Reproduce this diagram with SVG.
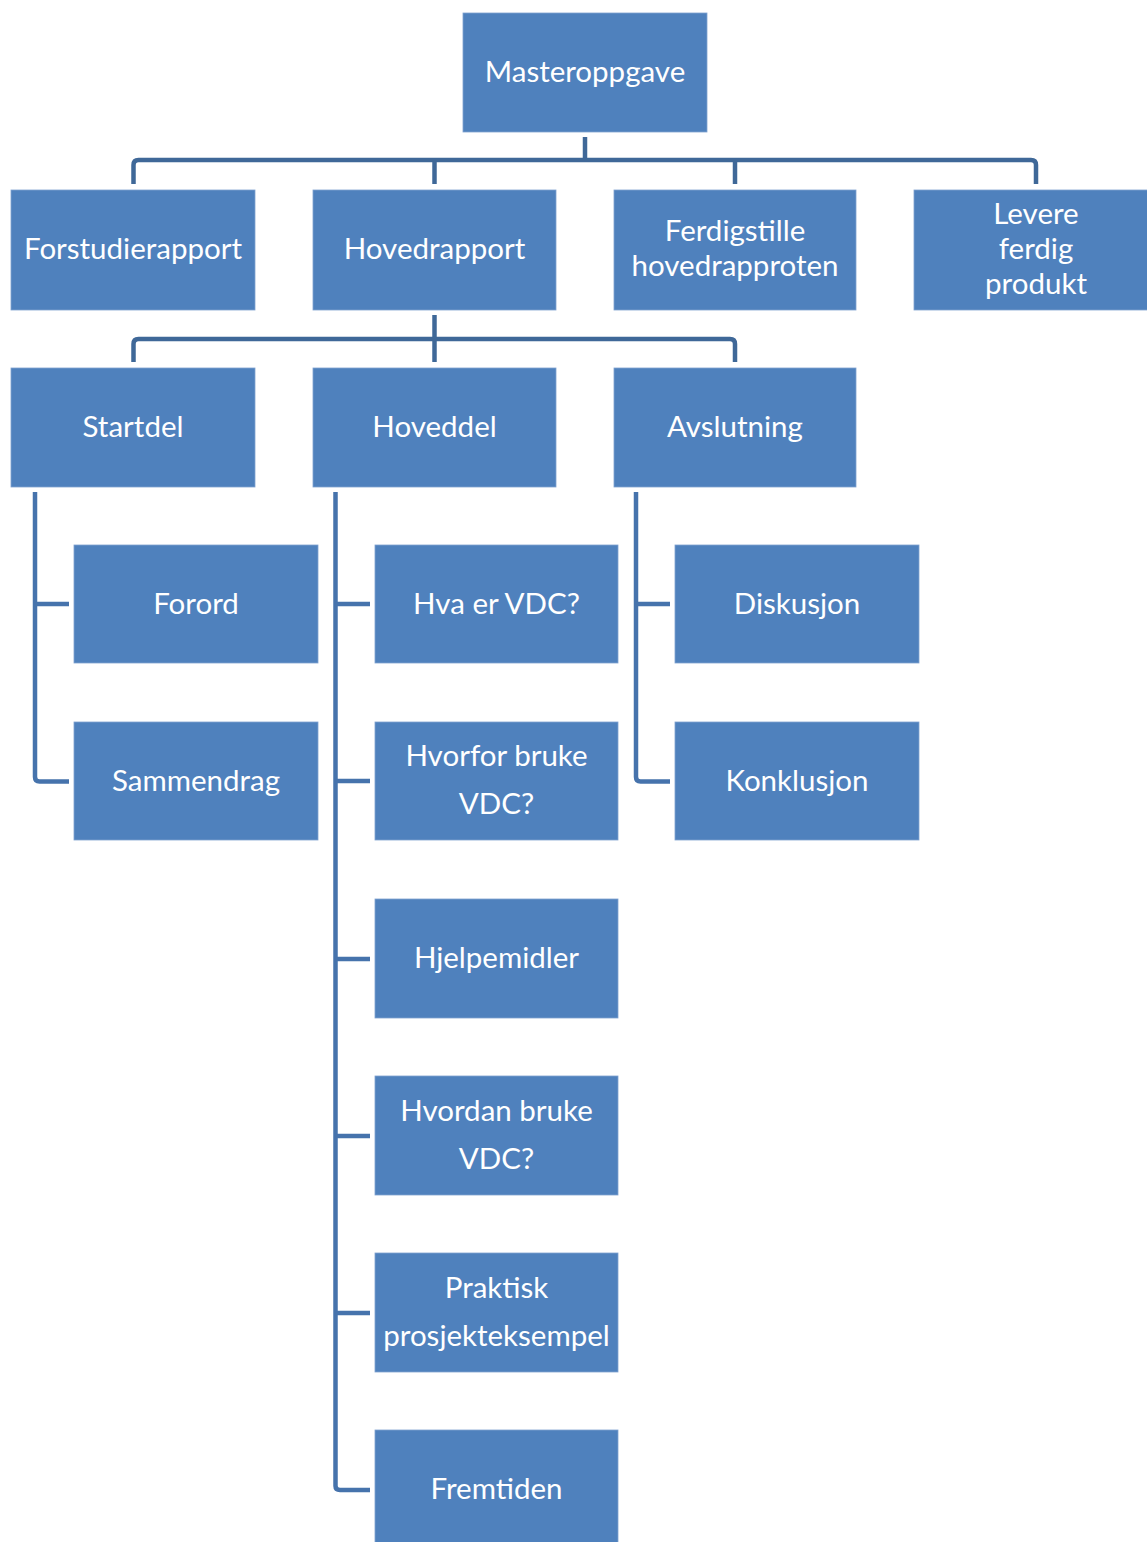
<svg xmlns="http://www.w3.org/2000/svg" width="1147" height="1542" viewBox="0 0 1147 1542">
<style>
.box{fill:#4F81BD;stroke:#7FA2D0;stroke-width:0.8}
.t{font-family:Lato,"Liberation Sans",sans-serif;font-size:29.5px;fill:#FFFFFF;text-anchor:middle}
.c1{fill:none;stroke:#3F6898;stroke-width:4.5;stroke-linejoin:round}
.c2{fill:none;stroke:#4673AC;stroke-width:4.5;stroke-linejoin:round}
</style>
<rect width="1147" height="1542" fill="#FFFFFF"/>
<g id="connectors">
<path class="c1" d="M585,137 V160"/>
<path class="c1" d="M133.5,184 V165 Q133.5,160 138.5,160 H1031 Q1036,160 1036,165 V184"/>
<path class="c1" d="M434.5,160 V184"/>
<path class="c1" d="M735,160 V184"/>
<path class="c1" d="M434.5,315 V362"/>
<path class="c1" d="M133.5,362 V344 Q133.5,339 138.5,339 H730 Q735,339 735,344 V362"/>
<path class="c2" d="M35,492 V777 Q35,781.5 39.5,781.5 H69"/>
<path class="c2" d="M35,604 H69"/>
<path class="c2" d="M335.5,492 V1486 Q335.5,1490 340,1490 H370"/>
<path class="c2" d="M335.5,604 H370"/>
<path class="c2" d="M335.5,781 H370"/>
<path class="c2" d="M335.5,959 H370"/>
<path class="c2" d="M335.5,1136 H370"/>
<path class="c2" d="M335.5,1313 H370"/>
<path class="c2" d="M636,492 V777 Q636,781.5 640.5,781.5 H670"/>
<path class="c2" d="M636,604 H670"/>
</g>
<g id="n-masteroppgave"><rect class="box" x="463" y="13" width="244" height="119"/><text class="t" x="585" y="82">Masteroppgave</text></g>
<g id="n-forstudierapport"><rect class="box" x="11" y="190" width="244" height="120"/><text class="t" x="133" y="259">Forstudierapport</text></g>
<g id="n-hovedrapport"><rect class="box" x="313" y="190" width="243" height="120"/><text class="t" x="434.5" y="259">Hovedrapport</text></g>
<g id="n-ferdigstille"><rect class="box" x="614" y="190" width="242" height="120"/><text class="t" x="735" y="241">Ferdigstille</text><text class="t" x="735" y="276">hovedrapproten</text></g>
<g id="n-levere"><rect class="box" x="914" y="190" width="243" height="120"/><text class="t" x="1036" y="224">Levere</text><text class="t" x="1036" y="259">ferdig</text><text class="t" x="1036" y="294">produkt</text></g>
<g id="n-startdel"><rect class="box" x="11" y="368" width="244" height="119"/><text class="t" x="133" y="437">Startdel</text></g>
<g id="n-hoveddel"><rect class="box" x="313" y="368" width="243" height="119"/><text class="t" x="434.5" y="437">Hoveddel</text></g>
<g id="n-avslutning"><rect class="box" x="614" y="368" width="242" height="119"/><text class="t" x="735" y="437">Avslutning</text></g>
<g id="n-forord"><rect class="box" x="74" y="545" width="244" height="118"/><text class="t" x="196" y="614">Forord</text></g>
<g id="n-sammendrag"><rect class="box" x="74" y="722" width="244" height="118"/><text class="t" x="196" y="791">Sammendrag</text></g>
<g id="n-hvaer"><rect class="box" x="375" y="545" width="243" height="118"/><text class="t" x="496.5" y="614">Hva er VDC?</text></g>
<g id="n-hvorfor"><rect class="box" x="375" y="722" width="243" height="118"/><text class="t" x="496.5" y="766">Hvorfor bruke</text><text class="t" x="496.5" y="814">VDC?</text></g>
<g id="n-hjelpemidler"><rect class="box" x="375" y="899" width="243" height="119"/><text class="t" x="496.5" y="968">Hjelpemidler</text></g>
<g id="n-hvordan"><rect class="box" x="375" y="1076" width="243" height="119"/><text class="t" x="496.5" y="1121">Hvordan bruke</text><text class="t" x="496.5" y="1169">VDC?</text></g>
<g id="n-praktisk"><rect class="box" x="375" y="1253" width="243" height="119"/><text class="t" x="496.5" y="1298">Praktisk</text><text class="t" x="496.5" y="1346">prosjekteksempel</text></g>
<g id="n-fremtiden"><rect class="box" x="375" y="1430" width="243" height="119"/><text class="t" x="496.5" y="1499">Fremtiden</text></g>
<g id="n-diskusjon"><rect class="box" x="675" y="545" width="244" height="118"/><text class="t" x="797" y="614">Diskusjon</text></g>
<g id="n-konklusjon"><rect class="box" x="675" y="722" width="244" height="118"/><text class="t" x="797" y="791">Konklusjon</text></g>
</svg>
